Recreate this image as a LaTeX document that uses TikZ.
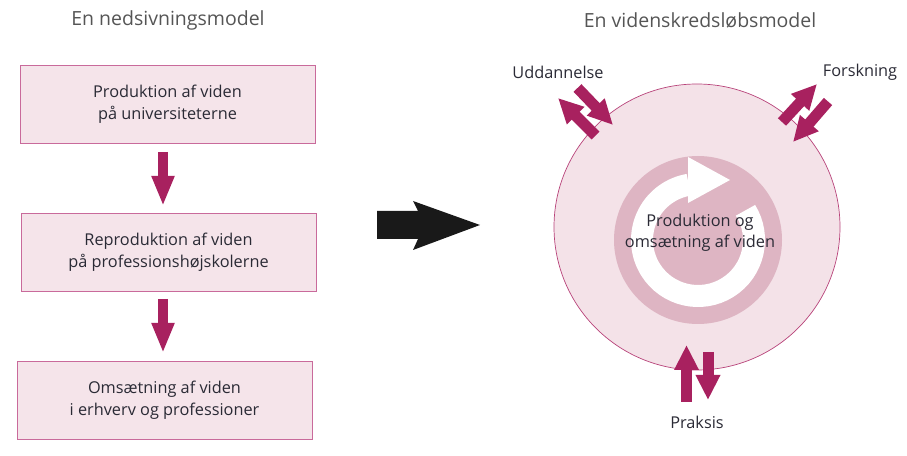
\documentclass[tikz,border=0pt]{standalone}
\usepackage{fontspec}
\setmainfont{Open Sans}
\usetikzlibrary{arrows.meta}
\definecolor{mag}{HTML}{A8215F}
\definecolor{boxfill}{HTML}{F5E4EA}
\definecolor{boxline}{HTML}{C96A9B}
\definecolor{circfill}{HTML}{F4E2E8}
\definecolor{circline}{HTML}{B8437A}
\definecolor{ringc}{HTML}{DEB5C3}
\definecolor{titlec}{HTML}{555555}
\definecolor{textc}{HTML}{2A2A35}
\begin{document}
\begin{tikzpicture}[x=1pt,y=1pt,
  every node/.style={inner sep=0pt, text=textc},
  stagebox/.style={draw=boxline, line width=0.9pt, fill=boxfill, minimum width=295pt, minimum height=78pt, align=center, font=\fontsize{16.3}{21.5}\selectfont},
  titletext/.style={text=titlec, font=\fontsize{19.5}{22}\selectfont},
  labeltext/.style={font=\fontsize{16.3}{21}\selectfont},
  bigdown/.style={draw=mag, line width=10pt, -{Triangle[width=21pt,length=30pt]}},
  smallarrow/.style={draw=mag, line width=11pt, -{Triangle[width=23pt,length=25pt]}}
]
\useasboundingbox (0,0) rectangle (907,455);

% titles
\node[titletext] (t1) at (168,435) {En nedsivningsmodel};
\node[titletext] (t2) at (700,435) {En videnskredsløbsmodel};

% left boxes
\node[stagebox] (b1) at (167.5,351) {Produktion af viden\\på universiteterne};
\node[stagebox] (b2) at (168.5,203) {Reproduktion af viden\\på professionshøjskolerne};
\node[stagebox] (b3) at (164.5,55) {Omsætning af viden\\i erhverv og professioner};

\coordinate (a1s) at (163,303);
\coordinate (a1e) at (163,249);
\coordinate (a2s) at (163,156);
\coordinate (a2e) at (163,102);
\draw[bigdown] (a1s) -- (a1e);
\draw[bigdown] (a2s) -- (a2e);

% big black arrow
\fill[black!90] (377,244) -- (418,244) -- (413,254) -- (480,230) -- (413,205) -- (418,216) -- (377,216) -- cycle;

% circle model
\coordinate (oc) at (697,228);
\fill[circfill] (oc) circle (143);
\draw[circline, line width=0.7pt] (oc) circle (143);
\coordinate (ic) at (698,215);
\fill[ringc] (ic) circle (84);
\draw[white, line width=22pt] ([shift={(32:56)}]ic) arc[start angle=32, end angle=-260.5, radius=56];
\fill[white] (688,298) -- (688,252) -- (730,275) -- cycle;

\node[labeltext, align=center, font=\fontsize{16.3}{21}\selectfont] (core) at (700,222.5) {Produktion og\\omsætning af viden};

% exchange arrows
\coordinate (u1s) at (577.5,367);
\coordinate (u1e) at (613,330);
\coordinate (u2s) at (595.5,319.5);
\coordinate (u2e) at (558,357);
\draw[smallarrow] (u1s) -- (u1e);
\draw[smallarrow] (u2s) -- (u2e);

\coordinate (f1s) at (782,333);
\coordinate (f1e) at (817,371);
\coordinate (f2s) at (828,353.5);
\coordinate (f2e) at (793,313);
\draw[smallarrow] (f1s) -- (f1e);
\draw[smallarrow] (f2s) -- (f2e);

\coordinate (p1s) at (686.5,53);
\coordinate (p1e) at (686.5,110);
\coordinate (p2s) at (708,103);
\coordinate (p2e) at (708,55);
\draw[smallarrow] (p1s) -- (p1e);
\draw[smallarrow] (p2s) -- (p2e);

\node[labeltext] (ud) at (558,383) {Uddannelse};
\node[labeltext] (fo) at (860,383) {Forskning};
\node[labeltext] (pr) at (697,33) {Praksis};
\end{tikzpicture}
\end{document}
